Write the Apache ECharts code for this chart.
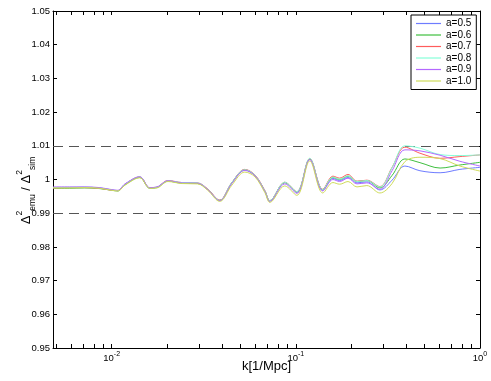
<!DOCTYPE html>
<html>
<head>
<meta charset="utf-8">
<script src="https://cdn.jsdelivr.net/npm/echarts@6/dist/echarts.min.js"></script>
<style>
    html, body { margin: 0; padding: 0; background: #fff; }
    #chart--ratio { width: 491px; height: 381px; }
</style>
</head>
<body>
<div id="chart--ratio"></div>
<script>
const kValues = [0.0048, 0.0059, 0.0071, 0.0086, 0.0100, 0.0108, 0.0118, 0.0142, 0.0161, 0.0176,
    0.0202, 0.0240, 0.0293, 0.0332, 0.0386, 0.0449, 0.0528, 0.0599, 0.0679, 0.0722,
    0.0871, 0.1012, 0.119, 0.140, 0.159, 0.173, 0.192, 0.2147, 0.243, 0.286,
    0.333, 0.391, 0.472, 0.607, 0.778, 1.0];
const seriesNames = ['a=0.5', 'a=0.6', 'a=0.7', 'a=0.8', 'a=0.9', 'a=1.0'];
const ratioA05 = [0.9976, 0.9976, 0.9977, 0.9975, 0.9969, 0.9967, 0.9986, 1.0007, 0.9975, 0.9977,
    0.9996, 0.9990, 0.9989, 0.9971, 0.9938, 0.9990, 1.0029, 1.0012, 0.9965, 0.9936,
    0.9991, 0.9962, 1.0061, 0.9968, 1.0003, 0.9997, 1.0006, 0.9990, 0.9993, 0.9969,
    0.9998, 1.0040, 1.0026, 1.0020, 1.0030, 1.0036];
const ratioA06 = [0.9974, 0.9974, 0.9975, 0.9973, 0.9968, 0.9966, 0.9984, 1.0006, 0.9974, 0.9976,
    0.9995, 0.9989, 0.9988, 0.9970, 0.9938, 0.9990, 1.0028, 1.0012, 0.9966, 0.9937,
    0.9991, 0.9963, 1.0061, 0.9970, 1.0006, 1.0000, 1.0010, 0.9994, 0.9997, 0.9975,
    1.0012, 1.0061, 1.0050, 1.0034, 1.0043, 1.0051];
const ratioA07 = [0.9975, 0.9976, 0.9976, 0.9974, 0.9968, 0.9967, 0.9986, 1.0008, 0.9975, 0.9977,
    0.9997, 0.9991, 0.9990, 0.9972, 0.9939, 0.9991, 1.0030, 1.0014, 0.9967, 0.9937,
    0.9992, 0.9964, 1.0062, 0.9971, 1.0010, 1.0004, 1.0015, 0.9995, 0.9998, 0.9979,
    1.0036, 1.0096, 1.0078, 1.0063, 1.0068, 1.0073];
const ratioA08 = [0.9976, 0.9977, 0.9977, 0.9975, 0.9969, 0.9967, 0.9986, 1.0008, 0.9975, 0.9977,
    0.9996, 0.9991, 0.9990, 0.9971, 0.9938, 0.9991, 1.0029, 1.0013, 0.9966, 0.9937,
    0.9992, 0.9964, 1.0063, 0.9970, 1.0007, 1.0001, 1.0011, 0.9994, 0.9997, 0.9978,
    1.0035, 1.0100, 1.0093, 1.0074, 1.0071, 1.0073];
const ratioA09 = [0.9978, 0.9978, 0.9978, 0.9976, 0.9970, 0.9968, 0.9987, 1.0008, 0.9976, 0.9978,
    0.9996, 0.9990, 0.9989, 0.9970, 0.9937, 0.9988, 1.0027, 1.0011, 0.9964, 0.9935,
    0.9987, 0.9959, 1.0059, 0.9966, 1.0000, 0.9994, 1.0004, 0.9987, 0.9990, 0.9971,
    1.0026, 1.0088, 1.0085, 1.0072, 1.0054, 1.0040];
const ratioA10 = [0.9975, 0.9975, 0.9976, 0.9974, 0.9968, 0.9966, 0.9983, 1.0005, 0.9974, 0.9975,
    0.9994, 0.9988, 0.9987, 0.9968, 0.9935, 0.9983, 1.0022, 1.0008, 0.9961, 0.9932,
    0.9981, 0.9953, 1.0055, 0.9960, 0.9991, 0.9986, 0.9994, 0.9978, 0.9982, 0.9960,
    0.9988, 1.0053, 1.0066, 1.0062, 1.0040, 1.0025];
const ratioSeries = [ratioA05, ratioA06, ratioA07, ratioA08, ratioA09, ratioA10];
const toleranceLines = [0.99, 1.01];
const xLabelTicks = [0.01, 0.1, 1];
const xTickValues = [0.005, 0.006, 0.007, 0.008, 0.009, 0.01, 0.02, 0.03, 0.04, 0.05, 0.06, 0.07, 0.08, 0.09,
    0.1, 0.2, 0.3, 0.4, 0.5, 0.6, 0.7, 0.8, 0.9, 1];
const xExponents = { '0.01': '-2', '0.1': '-1', '1': '0' };

const lineColors = ['#6e7cff', '#3fbf3f', '#ff5c5c', '#86ffd9', '#b468ff', '#cfdc5a'];
const fontFamily = '"Liberation Sans", Arial, sans-serif';

(() => {
    const chartElement = document.querySelector('#chart--ratio');
    const ratioChart = echarts.init(chartElement, null, { renderer: 'canvas' });

    const xMin = 0.0048;
    const xMax = 1;

    function xAxisBase(position, showLabels) {
        return {
            type: 'log',
            logBase: 10,
            position,
            min: xMin,
            max: xMax,
            axisLine: { show: true, onZero: false, lineStyle: { color: '#000', width: 1 } },
            axisTick: {
                show: true,
                inside: true,
                length: 4,
                customValues: xTickValues,
                lineStyle: { color: '#000', width: 1 }
            },
            axisLabel: {
                show: showLabels,
                customValues: xLabelTicks,
                margin: 3,
                color: '#000',
                fontFamily,
                fontSize: 9.5,
                formatter(value) {
                    const key = String(Number(value.toPrecision(3)));
                    return `{base|10}{sup|${xExponents[key] ?? ''}}`;
                },
                rich: {
                    base: { fontSize: 9.5, fontFamily, color: '#000', verticalAlign: 'bottom', lineHeight: 12 },
                    sup: { fontSize: 7, fontFamily, color: '#000', verticalAlign: 'top', lineHeight: 12 }
                }
            },
            splitLine: { show: false },
            minorTick: { show: false }
        };
    }

    function yAxisBase(position, showLabels) {
        return {
            type: 'value',
            position,
            min: 0.95,
            max: 1.05,
            interval: 0.01,
            axisLine: { show: true, onZero: false, lineStyle: { color: '#000', width: 1 } },
            axisTick: { show: true, inside: true, length: 4, lineStyle: { color: '#000', width: 1 } },
            axisLabel: {
                show: showLabels,
                margin: 3,
                color: '#000',
                fontFamily,
                fontSize: 9.5,
                formatter(value) {
                    return String(Number(value.toFixed(2)));
                }
            },
            splitLine: { show: false }
        };
    }

    const xBottom = xAxisBase('bottom', true);
    xBottom.name = 'k[1/Mpc]';
    xBottom.nameLocation = 'middle';
    xBottom.nameGap = 12;
    xBottom.nameMoveOverlap = false;
    xBottom.nameTextStyle = { color: '#000', fontFamily, fontSize: 13 };

    const yLeft = yAxisBase('left', true);
    yLeft.name = '{d|Δ}{sup|2}{sub|emu}{d| / Δ}{sup|2}{sub|sim}';
    yLeft.nameLocation = 'middle';
    yLeft.nameRotate = 90;
    yLeft.nameGap = 16;
    yLeft.nameMoveOverlap = false;
    yLeft.nameTextStyle = {
        color: '#000',
        fontFamily,
        padding: [0, 22, 0, 0],
        rich: {
            d: { fontSize: 13, fontFamily, color: '#000', verticalAlign: 'middle', lineHeight: 22 },
            sup: { fontSize: 8.5, fontFamily, color: '#000', verticalAlign: 'top', lineHeight: 22 },
            sub: { fontSize: 8.5, fontFamily, color: '#000', verticalAlign: 'bottom', lineHeight: 22 }
        }
    };

    const series = seriesNames.map((name, index) => {
        const item = {
            name,
            type: 'line',
            xAxisIndex: 0,
            yAxisIndex: 0,
            data: kValues.map((k, i) => [k, ratioSeries[index][i]]),
            symbol: 'none',
            smooth: 0.35,
            lineStyle: { color: lineColors[index], width: 1 },
            itemStyle: { color: lineColors[index] },
            z: 3 + index
        };
        if (index === 0) {
            item.markLine = {
                silent: true,
                symbol: ['none', 'none'],
                label: { show: false },
                lineStyle: { color: '#555', width: 1, type: [10, 6] },
                data: toleranceLines.map((value) => ({ yAxis: value }))
            };
        }
        return item;
    });

    ratioChart.setOption({
        animation: false,
        backgroundColor: '#fff',
        grid: { left: 53, right: 11, top: 11, bottom: 33, containLabel: false, outerBoundsMode: 'none' },
        legend: {
            data: seriesNames,
            orient: 'vertical',
            left: 411,
            top: 15,
            icon: 'rect',
            itemWidth: 25,
            itemHeight: 1.2,
            itemGap: 0.5,
            padding: [3, 5, 3, 5],
            backgroundColor: '#fff',
            borderColor: '#000',
            borderWidth: 1,
            borderRadius: 0,
            textStyle: { color: '#000', fontFamily, fontSize: 10, lineHeight: 11 }
        },
        xAxis: [xBottom, xAxisBase('top', false)],
        yAxis: [yLeft, yAxisBase('right', false)],
        series
    });
})();
</script>
</body>
</html>
